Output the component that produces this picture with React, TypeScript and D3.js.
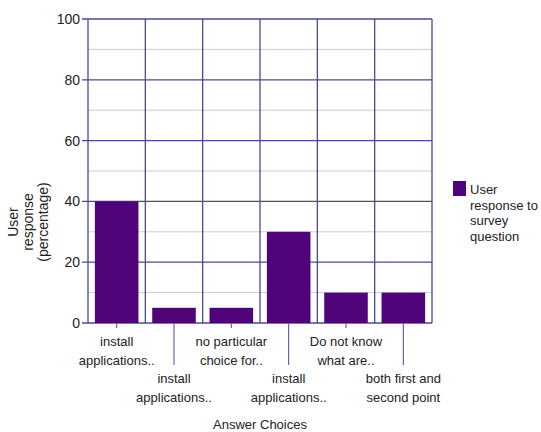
import React from "react";
import * as d3 from "d3";

// Survey answers: labels are split into display lines
const categories: string[][] = [
  ["install", "applications.."],
  ["install", "applications.."],
  ["no particular", "choice for.."],
  ["install", "applications.."],
  ["Do not know", "what are.."],
  ["both first and", "second point"],
];
const responses: number[] = [40, 5, 5, 30, 10, 10];
const yTicks: number[] = [0, 20, 40, 60, 80, 100];
const yMinorTicks: number[] = [10, 30, 50, 70, 90];
const yTitle: string[] = ["User", "response", "(percentage)"];
const xTitle = "Answer Choices";
const legendLines: string[] = ["User", "response to", "survey", "question"];

const W = 541;
const H = 432;
const plot = { left: 88, right: 432, top: 19, bottom: 323 };
const barColor = "#4f0479";
const gridDark = "#4a4a94";
const gridLight = "#c9c9dc";
const textColor = "#222";
const font = "'Liberation Sans', Arial, sans-serif";

export default function App() {
  const idx = categories.map((_, i) => i);
  const x = d3
    .scaleBand<number>()
    .domain(idx)
    .range([plot.left, plot.right])
    .paddingInner(0.24)
    .paddingOuter(0.12);
  const band = d3.scaleBand<number>().domain(idx).range([plot.left, plot.right]);
  const y = d3.scaleLinear().domain([0, 100]).range([plot.bottom, plot.top]);

  return (
    <svg
      width={W}
      height={H}
      style={{ position: "absolute", left: 0, top: 0, background: "#fff" }}
      fontFamily={font}
    >
      {/* minor gridlines */}
      {yMinorTicks.map((t) => (
        <line key={"m" + t} x1={plot.left} x2={plot.right} y1={y(t)} y2={y(t)} stroke={gridLight} strokeWidth={1} />
      ))}
      {/* major gridlines with ticks */}
      {yTicks.map((t) => (
        <g key={"g" + t}>
          <line x1={plot.left - 6} x2={plot.right} y1={y(t)} y2={y(t)} stroke={gridDark} strokeWidth={1.3} />
          <text x={plot.left - 8} y={y(t)} dy="0.35em" textAnchor="end" fontSize={14} fill={textColor}>
            {t}
          </text>
        </g>
      ))}
      {/* vertical band separators */}
      {idx.map((i) => (
        <line key={"v" + i} x1={band(i)!} x2={band(i)!} y1={plot.top} y2={plot.bottom} stroke={gridDark} strokeWidth={1.3} />
      ))}
      <line x1={plot.right} x2={plot.right} y1={plot.top} y2={plot.bottom} stroke={gridDark} strokeWidth={1.3} />
      {/* bars */}
      {responses.map((v, i) => (
        <rect key={"b" + i} x={x(i)!} y={y(v)} width={x.bandwidth()} height={y(0) - y(v)} fill={barColor} />
      ))}
      {/* category ticks and labels, alternating rows */}
      {categories.map((lines, i) => {
        const cx = band(i)! + band.bandwidth() / 2;
        const row = i % 2;
        const tickEnd = row === 0 ? plot.bottom + 5 : plot.bottom + 42;
        const firstLine = row === 0 ? 346 : 383;
        return (
          <g key={"c" + i}>
            <line x1={cx} x2={cx} y1={plot.bottom} y2={tickEnd} stroke={gridDark} strokeWidth={1} />
            {lines.map((ln, k) => (
              <text key={k} x={cx} y={firstLine + k * 18.5} textAnchor="middle" fontSize={13} fill={textColor}>
                {ln}
              </text>
            ))}
          </g>
        );
      })}
      <text x={(plot.left + plot.right) / 2} y={429} textAnchor="middle" fontSize={13} fill={textColor}>
        {xTitle}
      </text>
      {/* y axis title */}
      <g transform="translate(0,222)">
        {yTitle.map((ln, k) => (
          <text
            key={k}
            transform={`translate(${18 + k * 15},0) rotate(-90)`}
            textAnchor="middle"
            fontSize={14}
            fill={textColor}
          >
            {ln}
          </text>
        ))}
      </g>
      {/* legend */}
      <rect x={453} y={181} width={13} height={15} fill={barColor} />
      {legendLines.map((ln, k) => (
        <text key={k} x={470} y={194 + k * 15.5} fontSize={13} fill={textColor}>
          {ln}
        </text>
      ))}
    </svg>
  );
}
